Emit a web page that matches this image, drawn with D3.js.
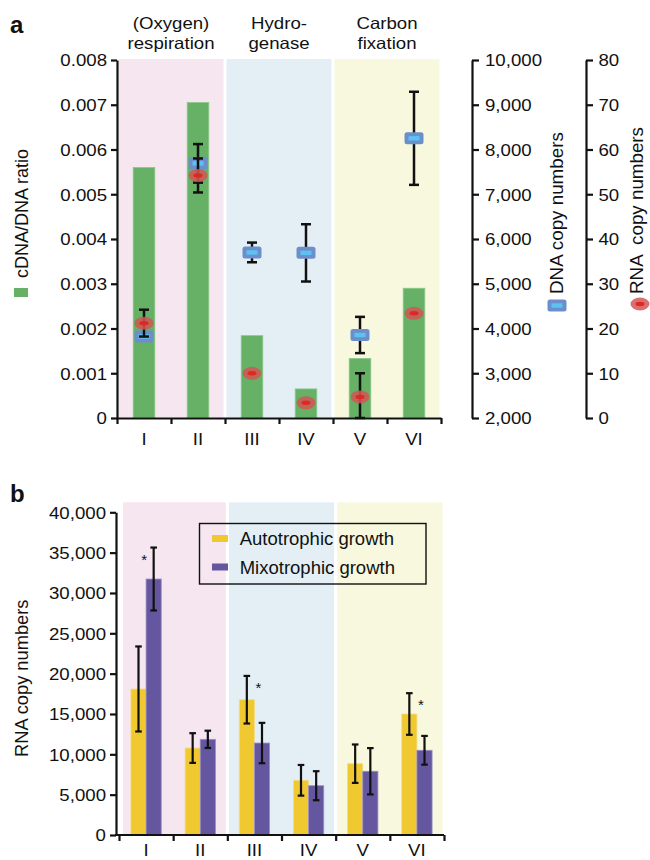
<!DOCTYPE html>
<html><head><meta charset="utf-8">
<script src="https://cdn.jsdelivr.net/npm/d3@7"></script>
<style>
body{margin:0;background:#fff;}
svg text{font-family:"Liberation Sans",Arial,Helvetica,sans-serif;fill:#111;}
</style></head><body>
<svg id="c" width="650" height="860"></svg>
<script>
// ---------- DATA ----------
const categories = ["I","II","III","IV","V","VI"];
const groupLabels = [["(Oxygen)","respiration"],["Hydro-","genase"],["Carbon","fixation"]];
const groupSpans = [[0,2],[2,4],[4,6]];
const groupColors = ["#f5e6ef","#e3eff5","#f7f8dd"];
const cdnaRatio = [0.0056,0.00705,0.00184,0.00065,0.00133,0.0029];
const dnaCopies = [3820,7690,5700,5690,3855,8250];
const dnaErr = [80,431,220,640,405,1040];
const rnaCopies = [21.2,54.2,10.0,3.4,4.7,23.4];
const rnaErr = [3.0,3.8,0,0,5.3,0];
const ratioTicks = [0,0.001,0.002,0.003,0.004,0.005,0.006,0.007,0.008];
const dnaTicks = [2000,3000,4000,5000,6000,7000,8000,9000,10000];
const rnaTicks = [0,10,20,30,40,50,60,70,80];

const seriesB = ["Autotrophic growth","Mixotrophic growth"];
const seriesColors = ["#f0c830","#64579f"];
const autoMean = [18100,10780,16770,6780,8840,15000];
const autoErr = [5270,1840,2950,1900,2380,2580];
const mixoMean = [31730,11860,11400,6110,7900,10500];
const mixoErr = [3900,1070,2500,1800,2870,1780];
const significant = ["I","III","VI"];
const rnaBTicks = [0,5000,10000,15000,20000,25000,30000,35000,40000];

// ---------- SETUP ----------
const svg = d3.select("#c");
const SX = 1.13, FS = 16.5;
const ink = "#111";
function styleAxis(g, w){
  g.selectAll("path.domain").attr("stroke", ink).attr("stroke-width", w);
  g.selectAll(".tick line").attr("stroke", ink).attr("stroke-width", w);
}
function stretchLabels(g, dx, anchor){
  g.selectAll(".tick text")
    .attr("x", null).attr("dy", "0.36em")
    .attr("font-size", FS).attr("text-anchor", anchor)
    .attr("fill", ink)
    .attr("transform", `translate(${dx},0) scale(${SX},1)`);
}
function stretchText(sel, x, y, txt, anchor){
  return sel.append("text").attr("transform", `translate(${x},${y}) scale(${SX},1)`)
    .attr("text-anchor", anchor || "middle").attr("font-size", FS).text(txt);
}

// ================= PANEL A =================
const A = {left:117, right:441, top:60, bottom:418};
const boundA = d3.scaleLinear().domain([0,6]).range([A.left, A.right]);
const xA = d3.scaleBand().domain(categories).range([A.left, A.right]).paddingInner(0.6).paddingOuter(0.3);
const yRatio = d3.scaleLinear().domain([0,0.008]).range([A.bottom, A.top]);
const yDNA = d3.scaleLinear().domain([2000,10000]).range([A.bottom, A.top]);
const yRNA = d3.scaleLinear().domain([0,80]).range([A.bottom, A.top]);
const cxA = c => xA(c) + xA.bandwidth()/2;

svg.append("text").attr("x", 10).attr("y", 33).attr("font-size", 24).attr("font-weight", "bold").text("a");

// backgrounds
groupSpans.forEach((s,i) => {
  const x0 = boundA(s[0]) + (s[0]===0 ? 2 : 1.5), x1 = boundA(s[1]) - 1.5;
  svg.append("rect").attr("x", x0).attr("y", A.top-1).attr("width", x1-x0).attr("height", A.bottom-A.top+1)
    .attr("fill", groupColors[i]);
  const cx = (boundA(s[0]) + boundA(s[1]))/2;
  stretchText(svg, cx, 28.5, groupLabels[i][0]);
  stretchText(svg, cx, 48.5, groupLabels[i][1]);
});

// bars
svg.append("g").selectAll("rect").data(categories).join("rect")
  .attr("x", c => xA(c)).attr("width", xA.bandwidth())
  .attr("y", (c,i) => yRatio(cdnaRatio[i])).attr("height", (c,i) => A.bottom - yRatio(cdnaRatio[i]))
  .attr("fill", "#66b166").attr("stroke", "#8cc98a").attr("stroke-width", 0.8);

function errBar(g, x, y0, y1, hw, w){
  g.append("line").attr("x1", x).attr("x2", x).attr("y1", y0).attr("y2", y1).attr("stroke", ink).attr("stroke-width", w);
  [y0,y1].forEach(y => g.append("line").attr("x1", x-hw).attr("x2", x+hw).attr("y1", y).attr("y2", y).attr("stroke", ink).attr("stroke-width", w));
}
const gA = svg.append("g");
// DNA error bars + markers
categories.forEach((c,i) => {
  if (dnaErr[i] > 0) errBar(gA, cxA(c), yDNA(dnaCopies[i]+dnaErr[i]), yDNA(dnaCopies[i]-dnaErr[i]), 5, 2.5);
});
function dnaMarker(g, x, y){
  g.append("rect").attr("x", x-9.5).attr("y", y-6).attr("width", 19).attr("height", 12).attr("rx", 2.5)
    .attr("fill", "#6c8fcb");
  g.append("rect").attr("x", x-5.5).attr("y", y-2.2).attr("width", 11).attr("height", 4.4).attr("fill", "#5cc2f2");
}
function rnaMarker(g, x, y){
  g.append("ellipse").attr("cx", x).attr("cy", y).attr("rx", 9.5).attr("ry", 6.5).attr("fill", "#d25656").attr("opacity", 0.85);
  g.append("ellipse").attr("cx", x).attr("cy", y).attr("rx", 4.5).attr("ry", 2.2).attr("fill", "#dc2a22");
}
categories.forEach((c,i) => dnaMarker(gA, cxA(c), yDNA(dnaCopies[i])));
categories.forEach((c,i) => {
  if (rnaErr[i] > 0) errBar(gA, cxA(c), yRNA(Math.min(80, rnaCopies[i]+rnaErr[i])), yRNA(Math.max(0, rnaCopies[i]-rnaErr[i])), 5, 2.5);
});
categories.forEach((c,i) => rnaMarker(gA, cxA(c), yRNA(rnaCopies[i])));

// axes
const axL = svg.append("g").attr("transform", `translate(${A.left},0)`)
  .call(d3.axisLeft(yRatio).tickValues(ratioTicks).tickSize(6).tickSizeOuter(0)
    .tickFormat(d => d===0 ? "0" : d3.format(".3f")(d)));
styleAxis(axL, 2.2); stretchLabels(axL, -10, "end");

const axB = svg.append("g").attr("transform", `translate(0,${A.bottom})`)
  .call(d3.axisBottom(boundA).ticks(6).tickSize(6).tickSizeOuter(0).tickFormat(""));
styleAxis(axB, 2.2);
categories.forEach(c => stretchText(svg, cxA(c), 445, c));

const axD = svg.append("g").attr("transform", `translate(472,0)`)
  .call(d3.axisRight(yDNA).tickValues(dnaTicks).tickSize(7).tickSizeOuter(0).tickFormat(d3.format(",")));
styleAxis(axD, 2.2); stretchLabels(axD, 13, "start");

const axR = svg.append("g").attr("transform", `translate(586,0)`)
  .call(d3.axisRight(yRNA).tickValues(rnaTicks).tickSize(7).tickSizeOuter(0).tickFormat(d3.format("d")));
styleAxis(axR, 2.2); stretchLabels(axR, 12.5, "start");

// axis titles & legend glyphs
svg.append("text").attr("transform", "translate(28.3,278) rotate(-90)").attr("font-size", 18).text("cDNA/DNA ratio");
svg.append("rect").attr("x", 14).attr("y", 288).attr("width", 14).attr("height", 9).attr("fill", "#66b166");
svg.append("text").attr("transform", "translate(562.5,294) rotate(-90)").attr("font-size", 18.8).text("DNA copy numbers");
dnaMarker(svg, 557, 305.5);
svg.append("text").attr("transform", "translate(643.3,294) rotate(-90)").attr("font-size", 18.8)
  .style("white-space", "pre").text("RNA  copy numbers");
rnaMarker(svg, 640, 304);

// ================= PANEL B =================
const B = {axisX:116, left:119, right:444, top:512.3, bottom:835};
const boundB = d3.scaleLinear().domain([0,6]).range([B.left, B.right]);
const xB = d3.scaleBand().domain(categories).range([B.left, B.right]).paddingInner(0.44).paddingOuter(0.22);
const xB1 = d3.scaleBand().domain(seriesB).range([0, xB.bandwidth()]);
const yB = d3.scaleLinear().domain([0,40000]).range([B.bottom, B.top]);
const cxB = c => xB(c) + xB.bandwidth()/2;

svg.append("text").attr("x", 10).attr("y", 502).attr("font-size", 24).attr("font-weight", "bold").text("b");

groupSpans.forEach((s,i) => {
  const x0 = boundB(s[0]) + (s[0]===0 ? 4 : 1.5), x1 = boundB(s[1]) - 1.5;
  svg.append("rect").attr("x", x0).attr("y", B.top-10).attr("width", x1-x0).attr("height", B.bottom-B.top+10)
    .attr("fill", groupColors[i]);
});

const meansB = [autoMean, mixoMean], errsB = [autoErr, mixoErr];
const strokeB = ["#f6dd86","#9a90c4"];
seriesB.forEach((s,k) => {
  svg.append("g").selectAll("rect").data(categories).join("rect")
    .attr("x", c => xB(c) + xB1(s)).attr("width", xB1.bandwidth())
    .attr("y", (c,i) => yB(meansB[k][i])).attr("height", (c,i) => B.bottom - yB(meansB[k][i]))
    .attr("fill", seriesColors[k]).attr("stroke", strokeB[k]).attr("stroke-width", 0.8);
});
const gB = svg.append("g");
seriesB.forEach((s,k) => {
  categories.forEach((c,i) => {
    const x = xB(c) + xB1(s) + xB1.bandwidth()/2;
    errBar(gB, x, yB(meansB[k][i]+errsB[k][i]), yB(meansB[k][i]-errsB[k][i]), 3.3, 2.2);
  });
});
// significance stars
categories.forEach((c,i) => {
  if (!significant.includes(c)) return;
  const topA = autoMean[i]+autoErr[i], topM = mixoMean[i]+mixoErr[i];
  const x = topM > topA ? cxB(c) - 2 : cxB(c) + 4;
  svg.append("text").attr("x", x).attr("y", yB(Math.max(topA, topM)) + 17)
    .attr("text-anchor", "middle").attr("font-size", 15).text("*");
});

const ayB = svg.append("g").attr("transform", `translate(${B.axisX},0)`)
  .call(d3.axisLeft(yB).tickValues(rnaBTicks).tickSize(6).tickSizeOuter(0).tickFormat(d3.format(",")));
styleAxis(ayB, 2.2); stretchLabels(ayB, -10, "end");

svg.append("line").attr("x1", B.axisX-1).attr("x2", B.right).attr("y1", B.bottom).attr("y2", B.bottom)
  .attr("stroke", ink).attr("stroke-width", 2.2);
const axBB = svg.append("g").attr("transform", `translate(0,${B.bottom})`)
  .call(d3.axisBottom(boundB).ticks(6).tickSize(6).tickSizeOuter(0).tickFormat(""));
axBB.select("path.domain").remove();
styleAxis(axBB, 2.2);
categories.forEach(c => stretchText(svg, cxB(c), 855.5, c));

svg.append("text").attr("transform", "translate(28.3,757) rotate(-90)").attr("font-size", 18.3).text("RNA copy numbers");

// legend
const lg = svg.append("g");
lg.append("rect").attr("x", 199.5).attr("y", 523.5).attr("width", 226.5).attr("height", 60.5)
  .attr("fill", "none").attr("stroke", ink).attr("stroke-width", 1.4);
seriesB.forEach((s,k) => {
  const yy = [538.5, 567][k];
  lg.append("rect").attr("x", 212).attr("y", yy-3.5).attr("width", 16).attr("height", 7).attr("fill", seriesColors[k]);
  lg.append("text").attr("x", 239.7).attr("y", yy+6.5).attr("font-size", 18.5).text(s);
});
</script>
</body></html>
